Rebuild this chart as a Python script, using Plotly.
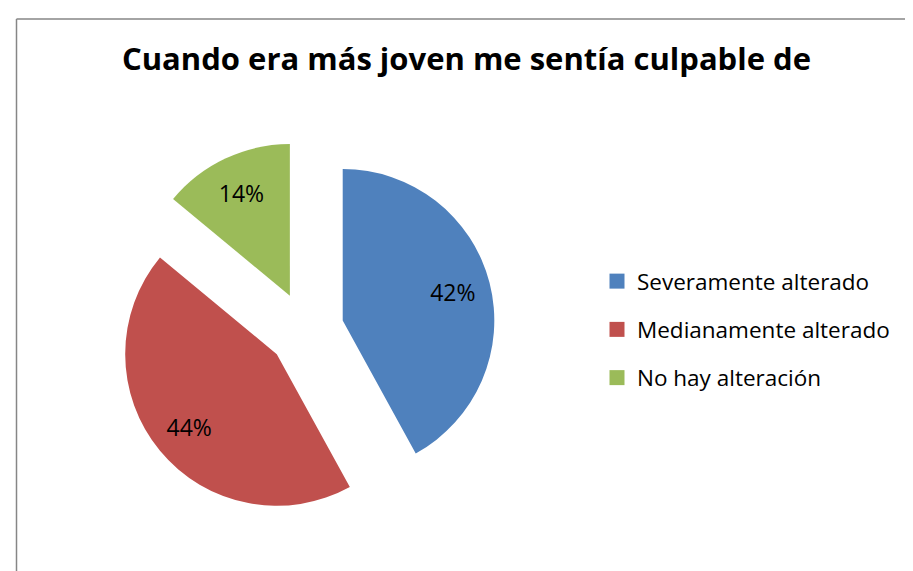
import plotly.graph_objects as go

categories = ["Severamente alterado", "Medianamente alterado", "No hay alteración"]
values = [42, 44, 14]
colors = ["#4F81BD", "#C0504D", "#9BBB59"]
title_text = "Cuando era más joven me sentía culpable de"

W, H = 913, 571
FONT = "Open Sans"
pull = [0.25, 0.25, 0.25]
dom = dict(x=[108.5 / W, 487.5 / W], y=[1 - 511.5 / H, 1 - 132.5 / H])

fig = go.Figure()
# coloured slices
fig.add_trace(go.Pie(
    labels=categories, values=values, sort=False, direction="clockwise", rotation=0,
    pull=pull, marker=dict(colors=colors, line=dict(width=0)),
    textinfo="none", domain=dom, showlegend=False, hoverinfo="label+percent",
))
# transparent ring carrying the percentage labels (places them at ~3/4 radius)
fig.add_trace(go.Pie(
    labels=categories, values=values, sort=False, direction="clockwise", rotation=0,
    pull=pull, hole=0.5,
    marker=dict(colors=["rgba(0,0,0,0)"] * 3, line=dict(width=0)),
    texttemplate="%{percent:.0%}", textposition="inside",
    insidetextorientation="horizontal",
    textfont=dict(family=FONT, size=23, color="black"),
    domain=dom, showlegend=False, hoverinfo="skip",
))

# legend entries (one group per category so spacing can match)
for i, (c, col) in enumerate(zip(categories, colors)):
    fig.add_trace(go.Scatter(
        x=[None], y=[None], mode="markers", name=c,
        marker=dict(symbol="square", size=15, color=col),
        legendgroup=f"g{i}", showlegend=True, hoverinfo="skip",
    ))

fig.update_layout(
    width=W, height=H,
    margin=dict(l=0, r=0, t=0, b=0),
    paper_bgcolor="white", plot_bgcolor="white",
    xaxis=dict(visible=False), yaxis=dict(visible=False),
    title=dict(text="<b>" + title_text + "</b>", x=458.5 / W, xanchor="center",
               y=1 - 51 / H, yanchor="middle",
               font=dict(family=FONT, size=31, color="black")),
    legend=dict(x=589 / W, xanchor="left", y=1 - 252 / H, yanchor="top",
                font=dict(family=FONT, size=22.5, color="black"),
                tracegroupgap=16, traceorder="grouped",
                bgcolor="rgba(0,0,0,0)", borderwidth=0),
    shapes=[
        dict(type="line", xref="paper", yref="paper", x0=8.5 / W, x1=1.0,
             y0=1 - 11 / H, y1=1 - 11 / H, line=dict(color="#868686", width=1.5)),
        dict(type="line", xref="paper", yref="paper", x0=8.5 / W, x1=8.5 / W,
             y0=1 - 11 / H, y1=0.0, line=dict(color="#868686", width=1.5)),
    ],
)

fig.write_html("out.html")
